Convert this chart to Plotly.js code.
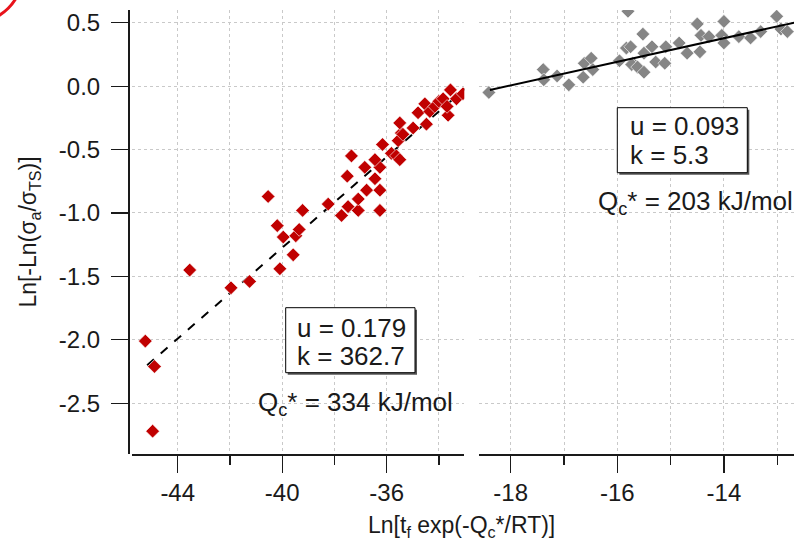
<!DOCTYPE html>
<html>
<head>
<meta charset="utf-8">
<script src="https://cdn.plot.ly/plotly-3.0.1.min.js"></script>
<style>html,body{margin:0;padding:0;background:#fff;}#chart{width:794px;height:549px;}</style>
</head>
<body>
<div id="chart"></div>
<script>
// ---- data ----
const redX = [-45.24,-44.89,-44.96,-43.54,-41.96,-41.25,-40.09,-39.58,-39.96,-40.19,-40.54,-39.22,-39.48,-39.35,-38.24,-37.73,-37.48,-37.09,-37.09,-36.77,-36.26,-36.26,-37.51,-37.35,-36.84,-36.45,-36.26,-36.45,-36.16,-35.82,-35.63,-35.50,-35.44,-35.50,-34.99,-34.48,-34.80,-34.54,-34.35,-34.16,-34.00,-33.84,-33.65,-33.69,-33.56,-33.33,-33.08,-35.56,-35.38];
const redY = [-2.01,-2.21,-2.72,-1.45,-1.59,-1.54,-1.44,-1.33,-1.19,-1.10,-0.87,-0.98,-1.18,-1.13,-0.93,-1.02,-0.95,-0.98,-0.89,-0.82,-0.98,-0.82,-0.71,-0.55,-0.64,-0.73,-0.64,-0.58,-0.46,-0.53,-0.55,-0.58,-0.37,-0.29,-0.33,-0.30,-0.21,-0.14,-0.20,-0.16,-0.12,-0.10,-0.23,-0.16,-0.03,-0.10,-0.06,-0.43,-0.38];
const grayX = [-18.41,-17.39,-17.38,-17.13,-16.91,-16.62,-16.49,-16.64,-16.46,-15.80,-15.83,-15.96,-15.71,-15.75,-15.73,-15.52,-15.35,-15.50,-15.62,-15.50,-15.28,-15.09,-15.11,-14.84,-14.69,-14.45,-14.50,-14.43,-14.28,-14.00,-14.04,-14.00,-13.72,-13.50,-13.31,-13.01,-12.93,-12.81];
const grayY = [-0.05,0.13,0.05,0.08,0.01,0.18,0.22,0.07,0.13,0.59,0.30,0.20,0.18,0.31,0.17,0.41,0.31,0.26,0.15,0.11,0.19,0.31,0.18,0.34,0.26,0.27,0.49,0.40,0.39,0.51,0.40,0.34,0.39,0.38,0.43,0.55,0.45,0.43];
const fitRedX = [-45.17,-33.00];
const fitRedY = [-2.20,-0.02];
const fitGrayX = [-18.39,-12.68];
const fitGrayY = [-0.03,0.50];
const leftTicks = [-44,-40,-36];
const rightTicks = [-18,-16,-14];
const yTicks = [0.5,0.0,-0.5,-1.0,-1.5,-2.0,-2.5];
const yTickText = ['0.5','0.0','-0.5','-1.0','-1.5','-2.0','-2.5'];

const FONT = 'Liberation Sans, Arial, sans-serif';
const INK = '#1a1a1a';
const GRID = '#c9c9c9';

const traces = [
  {x: fitRedX, y: fitRedY, xaxis:'x', yaxis:'y', mode:'lines', line:{color:'#000', width:2, dash:'dash'}, hoverinfo:'skip'},
  {x: redX, y: redY, xaxis:'x', yaxis:'y', mode:'markers', marker:{symbol:'diamond', size:10.5, color:'#c00000', line:{color:'#ffffff', width:0.6}}},
  {x: grayX, y: grayY, xaxis:'x2', yaxis:'y', mode:'markers', marker:{symbol:'diamond', size:10.5, color:'#858585', line:{color:'#ffffff', width:0.6}}},
  {x: fitGrayX, y: fitGrayY, xaxis:'x2', yaxis:'y', mode:'lines', line:{color:'#000', width:2}, hoverinfo:'skip'}
];

const L = 128, W = 666, T = 10, H = 444; // plot area in px
const px = v => (v - L) / W;
const py = v => (T + H - v) / H;

const xCommon = {
  anchor:'y', showline:true, linecolor:INK, linewidth:1.5,
  ticks:'outside', ticklen:17, tickwidth:1.2, tickcolor:INK,
  tickfont:{family:FONT, size:24, color:INK},
  showgrid:true, gridcolor:GRID, griddash:'dot', gridwidth:1,
  zeroline:false, mirror:false
};

const layout = {
  width:794, height:549,
  margin:{l:L, r:794-L-W, t:T, b:549-T-H, pad:0},
  paper_bgcolor:'#fff', plot_bgcolor:'#fff',
  showlegend:false,
  font:{family:FONT, color:INK},
  xaxis: Object.assign({}, xCommon, {
    domain:[px(132), px(464.3)], range:[-45.75,-33.03],
    tickmode:'array', tickvals:leftTicks, ticktext:leftTicks.map(String),
    minor:{dtick:2, tick0:0, ticks:'outside', ticklen:9, tickwidth:1.2, tickcolor:INK, showgrid:true, gridcolor:GRID, griddash:'dot'}
  }),
  xaxis2: Object.assign({}, xCommon, {
    domain:[px(479), 1], range:[-18.595,-12.685],
    tickmode:'array', tickvals:rightTicks, ticktext:rightTicks.map(String),
    minor:{dtick:1, tick0:0, ticks:'outside', ticklen:9, tickwidth:1.2, tickcolor:INK, showgrid:true, gridcolor:GRID, griddash:'dot'}
  }),
  yaxis: {
    anchor:'free', position:0, domain:[0,1], range:[-2.90,0.60],
    showline:true, linecolor:INK, linewidth:1.5,
    ticks:'outside', ticklen:17, tickwidth:1.2, tickcolor:INK,
    tickmode:'array', tickvals:yTicks, ticktext:yTickText,
    tickfont:{family:FONT, size:24, color:INK}, ticklabelstandoff:6,
    showgrid:true, gridcolor:GRID, griddash:'dot', gridwidth:1, zeroline:false,
    title:{text:'Ln[-Ln(σ<sub>a</sub>/σ<sub>TS</sub>)]', font:{family:FONT, size:23, color:INK}, standoff:14}
  },
  shapes:[
    {type:'rect', xref:'paper', yref:'paper', x0:px(287.7), x1:px(417), y0:py(309.7), y1:py(374.7), fillcolor:'#555', line:{width:0}, layer:'above'},
    {type:'rect', xref:'paper', yref:'paper', x0:px(285.7), x1:px(415), y0:py(307.7), y1:py(372.7), fillcolor:'#fff', line:{color:'#000', width:1}, layer:'above'},
    {type:'rect', xref:'paper', yref:'paper', x0:px(619.3), x1:px(749.3), y0:py(109.7), y1:py(174.7), fillcolor:'#555', line:{width:0}, layer:'above'},
    {type:'rect', xref:'paper', yref:'paper', x0:px(617.3), x1:px(747.3), y0:py(107.7), y1:py(172.7), fillcolor:'#fff', line:{color:'#000', width:1}, layer:'above'},
    {type:'circle', xref:'paper', yref:'paper', x0:px(-72), x1:px(22), y0:py(-72), y1:py(22), line:{color:'#e8131b', width:3}, layer:'above'}
  ],
  annotations:[
    {xref:'paper', yref:'paper', x:px(461), y:py(526), xanchor:'center', yanchor:'middle', showarrow:false,
     text:'Ln[t<sub>f</sub> exp(-Q<sub>c</sub>*/RT)]', font:{family:FONT, size:23, color:INK}},
    {xref:'paper', yref:'paper', x:px(295), y:py(328), xanchor:'left', yanchor:'middle', showarrow:false, text:'u = 0.179', font:{family:FONT, size:26, color:INK}},
    {xref:'paper', yref:'paper', x:px(295), y:py(356), xanchor:'left', yanchor:'middle', showarrow:false, text:'k = 362.7', font:{family:FONT, size:26, color:INK}},
    {xref:'paper', yref:'paper', x:px(355), y:py(403), xanchor:'center', yanchor:'middle', showarrow:false, text:'Q<sub>c</sub>* = 334 kJ/mol', font:{family:FONT, size:26, color:INK}},
    {xref:'paper', yref:'paper', x:px(628), y:py(126), xanchor:'left', yanchor:'middle', showarrow:false, text:'u = 0.093', font:{family:FONT, size:26, color:INK}},
    {xref:'paper', yref:'paper', x:px(628), y:py(155), xanchor:'left', yanchor:'middle', showarrow:false, text:'k = 5.3', font:{family:FONT, size:26, color:INK}},
    {xref:'paper', yref:'paper', x:px(695), y:py(202), xanchor:'center', yanchor:'middle', showarrow:false, text:'Q<sub>c</sub>* = 203 kJ/mol', font:{family:FONT, size:26, color:INK}}
  ]
};

Plotly.newPlot('chart', traces, layout, {displayModeBar:false, staticPlot:true});
</script>
</body>
</html>
